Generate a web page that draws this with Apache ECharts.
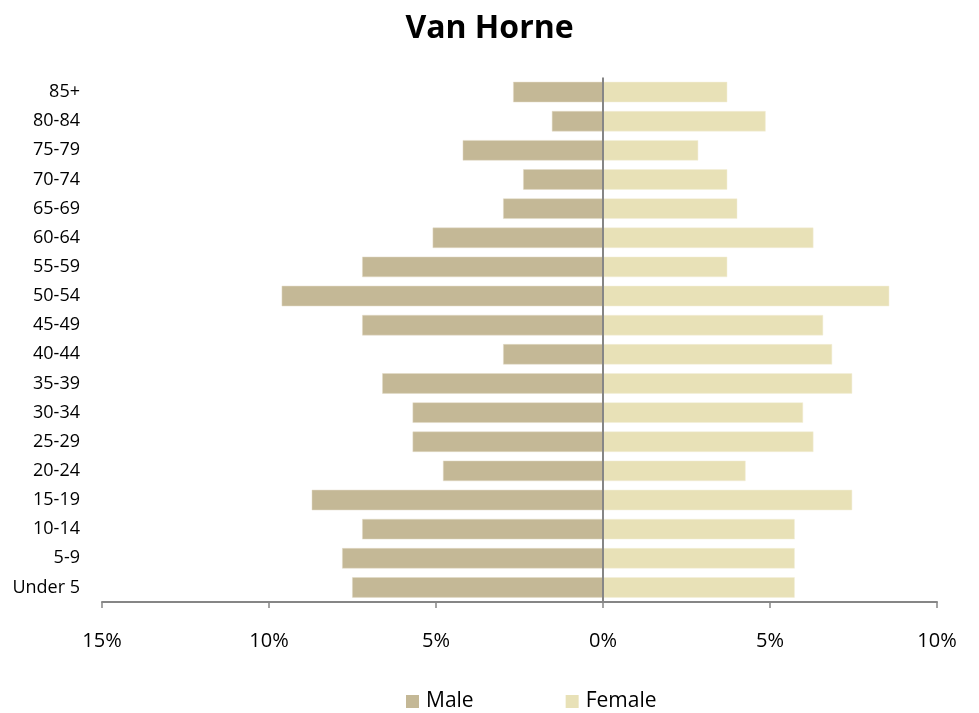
<!DOCTYPE html>
<html>
<head>
<meta charset="utf-8">
<script src="https://cdn.jsdelivr.net/npm/echarts@6/dist/echarts.min.js"></script>
<style>
html,body{margin:0;padding:0;background:#fff;}
#chart{width:979px;height:713px;}
</style>
</head>
<body>
<div id="chart"></div>
<script>
const categories = ['Under 5','5-9','10-14','15-19','20-24','25-29','30-34','35-39','40-44','45-49','50-54','55-59','60-64','65-69','70-74','75-79','80-84','85+'];
const maleValues = [7.51,7.81,7.21,8.72,4.79,5.70,5.70,6.61,2.99,7.21,9.62,7.21,5.10,2.99,2.39,4.20,1.53,2.69];
const femaleValues = [5.74,5.74,5.74,7.46,4.27,6.30,5.99,7.46,6.86,6.59,8.57,3.72,6.30,4.02,3.72,2.85,4.87,3.72];
const xTicks = [-15,-10,-5,0,5,10];

const FONT = '"Open Sans", "Noto Sans", sans-serif';
const chart = echarts.init(document.getElementById('chart'));
chart.setOption({
  animation: false,
  title: {
    text: 'Van Horne', left: 'center', top: 8,
    textStyle: {fontFamily: FONT, fontSize: 32, fontWeight: 'bold', color: '#000'}
  },
  legend: {
    top: 686, left: 401, itemWidth: 13, itemHeight: 13, itemGap: 92,
    icon: 'rect',
    itemStyle: {borderWidth: 0},
    textStyle: {fontFamily: FONT, fontSize: 21, color: '#000', padding: [0, 0, 0, 2]},
    data: ['Male','Female']
  },
  grid: {left: 102, right: 42, top: 77.5, bottom: 111, containLabel: false},
  xAxis: {
    type: 'value', min: xTicks[0], max: xTicks[xTicks.length-1], interval: 5,
    axisLine: {show: true, lineStyle: {color: '#868686', width: 2}},
    axisTick: {show: true, length: 6, lineStyle: {color: '#868686', width: 1.5}},
    splitLine: {show: false},
    axisLabel: {
      margin: 29, fontFamily: FONT, fontSize: 20, color: '#000',
      formatter: v => Math.abs(v) + '%'
    }
  },
  yAxis: {
    type: 'category', data: categories,
    axisLine: {show: false}, axisTick: {show: false},
    axisLabel: {margin: 22, fontFamily: FONT, fontSize: 18, color: '#000'}
  },
  series: [
    {
      name: 'Male', type: 'bar', stack: 'pop', barCategoryGap: '30%',
      data: maleValues.map(v => -v),
      itemStyle: {color: '#C4B896', borderColor: '#E2DBC7', borderWidth: 0.5},
      markLine: {
        silent: true, symbol: 'none', label: {show: false},
        lineStyle: {color: '#868686', width: 2, type: 'solid'},
        data: [{xAxis: 0}]
      },
      z: 2
    },
    {
      name: 'Female', type: 'bar', stack: 'pop', barCategoryGap: '30%',
      data: femaleValues,
      itemStyle: {color: '#E8E1B7', borderColor: '#F3EFD8', borderWidth: 0.5},
      z: 2
    }
  ]
});
</script>
</body>
</html>
